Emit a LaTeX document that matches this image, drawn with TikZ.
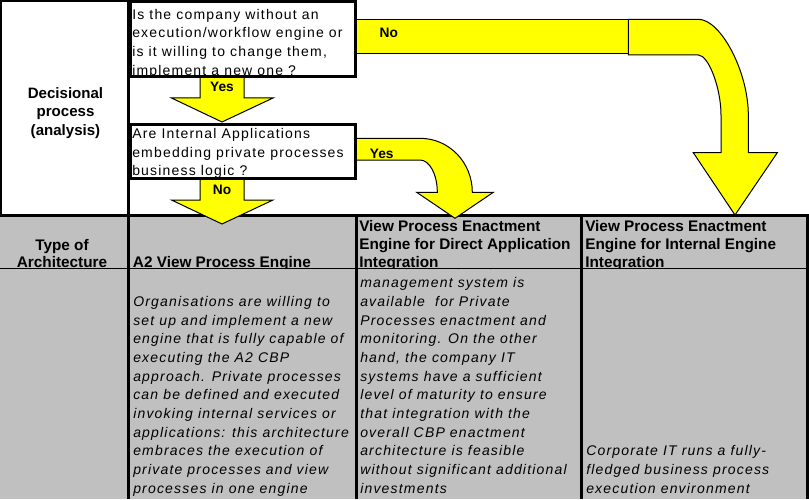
\documentclass[tikz,border=0pt]{standalone}
\usepackage{fontspec}
\setmainfont{Liberation Sans}
\newfontfamily\cellfont[LetterSpace=8.5]{Liberation Sans}
\usetikzlibrary{calc}

\definecolor{arrowyellow}{RGB}{255,255,0}
\definecolor{cellgray}{RGB}{192,192,192}

\tikzset{
  qtext/.style={anchor=north west, inner sep=0pt, align=left,
    font=\cellfont\fontsize{10.5}{14}\selectfont},
  bodytext/.style={anchor=south west, inner sep=0pt, align=left,
    font=\cellfont\itshape\fontsize{10.5}{14}\selectfont},
  headtext/.style={anchor=north west, inner sep=0pt, align=left,
    font=\bfseries\fontsize{11.5}{13.4}\selectfont},
  rowtext/.style={inner sep=0pt, align=center,
    font=\bfseries\fontsize{11.3}{13.9}\selectfont},
  answer/.style={anchor=base, inner sep=0pt,
    font=\bfseries\fontsize{10.3}{12}\selectfont},
  blockarrow/.style={fill=arrowyellow, draw=black, line width=0.75pt, line join=miter},
  qframe/.style={draw=black, line width=2.25pt},
  thickrule/.style={line width=2.25pt},
}

% straight block arrow pointing down, from #1 to the tip #2
\newcommand\blockdown[2]{%
  \filldraw[blockarrow] ($(#1)+(-22,0)$) -- ($(#2)+(-22,-24)$) -- ($(#2)+(-50.5,-24)$)
    -- (#2) -- ($(#2)+(51,-24)$) -- ($(#2)+(22,-24)$) -- ($(#1)+(22,0)$) -- cycle;}

\begin{document}
\begin{tikzpicture}[x=0.75pt,y=-0.75pt]
\useasboundingbox (0,0) rectangle (809,499);
\fill[white] (0,0) rectangle (809,499);
\fill[cellgray] (0,215) rectangle (809,499);
%----------------------------------
\draw[line width=1.5pt] (1,215) -- (1,1) -- (129,1);
\draw[thickrule] (128.8,0) -- (128.8,499);
\draw[thickrule] (0,215) -- (809,215);
\draw[thickrule] (356.2,215) -- (356.2,499);
\draw[thickrule] (581.5,215) -- (581.5,499);
\draw[thickrule] (807.3,215) -- (807.3,499);
%----------------------------------
\node[rowtext, anchor=north] (dec) at (65.5,85)
  {\strut Decisional\\process\\(analysis)};
\begin{scope}
\clip (0,216.5) rectangle (809,268);
\node[headtext, anchor=south, align=center, font=\bfseries\fontsize{11.5}{12.75}\selectfont]
  (arch) at (62,272.5) {Type of\\Architecture\strut};
\node[headtext, anchor=base west] (hA2) at (132.7,267.5) {A2 View Process Engine};
\node[headtext] (hDirect) at (359,218.5)
  {\strut View Process Enactment\\Engine for Direct Application\\Integration};
\node[headtext] (hInternal) at (585,218.5)
  {\strut View Process Enactment\\Engine for Internal Engine\\Integration};
\end{scope}
\begin{scope}
\clip (0,268) rectangle (809,499);
\node[bodytext] (bA2) at (133,499.1)
  {Organisations are willing to\\set up and implement a new\\engine that is fully capable of\\
   executing the A2 CBP\\approach. Private processes\\can be defined and executed\\
   invoking internal services or\\applications: this architecture\\embraces the execution of\\
   private processes and view\\processes in one engine\strut};
\node[bodytext] (bDirect) at (360,499.1)
  {No internal workflow\\management system is\\available \ for Private\\Processes enactment and\\
   monitoring. On the other\\hand, the company IT\\systems have a sufficient\\
   level of maturity to ensure\\that integration with the\\overall CBP enactment\\
   architecture is feasible\\without significant additional\\investments\strut};
\node[bodytext] (bInternal) at (586,499.1)
  {Corporate IT runs a fully-\\fledged business process\\execution environment\strut};
\end{scope}
\draw[line width=0.75pt] (0,268.3) -- (807,268.3);
%----------------------------------
\coordinate (q1out) at (222,77);
\coordinate (q2in) at (222,122);
\coordinate (q2out) at (222,179);
\coordinate (tA2) at (222,224);
\blockdown{q1out}{q2in}
\blockdown{q2out}{tA2}
% No: right, then down to the internal engine column
\filldraw[blockarrow] (356,19.3) rectangle (628.3,53.3);
\filldraw[blockarrow] (628.3,19.3) -- (698.3,19.3)
  .. controls (720.8,19.3) and (748.3,71.8) .. (748.3,115) -- (748.3,152.7)
  -- (777.3,152.7) -- (735,215) -- (693.3,152.7) -- (721,152.7) -- (721,115)
  .. controls (721,88) and (708.5,55) .. (698.3,55) -- (628.3,55) -- cycle;
% Yes: right, then down to the direct application column
\filldraw[blockarrow] (356,138.3) -- (420,138.3)
  .. controls (448.9,138.3) and (472.3,162.2) .. (472.3,192.3)
  -- (493.3,192.3) -- (455,218.3) -- (416.7,192.3) -- (437.3,192.3)
  .. controls (437.3,174.3) and (429.5,160) .. (420,160) -- (356,160) -- cycle;
%----------------------------------
\node[qtext] (q1) at (132,5.9)
  {\strut Is the company without an\\execution/workflow engine or\\is it willing to change them,\\implement a new one ?};
\node[qtext] (q2) at (132,125.2)
  {\strut Are Internal Applications\\embedding private processes\\business logic ?};
\draw[qframe, fill=none] (130,1.5) rectangle (355,76.5);
\draw[qframe, fill=none] (130,124.5) rectangle (355,178.5);
%----------------------------------
\node[answer] (ansYes1) at (222,91.7) {Yes};
\node[answer] (ansNo2) at (222,194.3) {No};
\node[answer] (ansNo1) at (388.8,37.3) {No};
\node[answer] (ansYes2) at (381.7,158.3) {Yes};
\end{tikzpicture}
\end{document}
